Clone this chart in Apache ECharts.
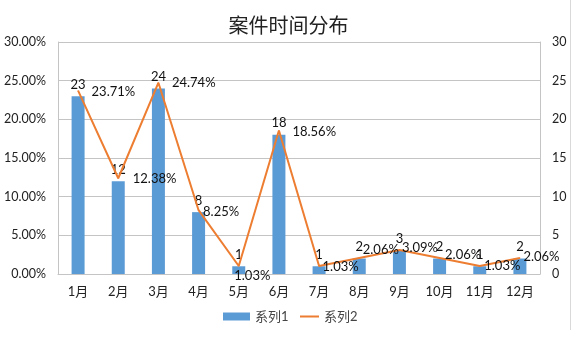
<!DOCTYPE html>
<html>
<head>
<meta charset="utf-8">
<script src="https://cdn.jsdelivr.net/npm/echarts@6/dist/echarts.min.js"></script>
<style>
  html, body { margin: 0; padding: 0; background: #fff; }
  #chart { width: 577px; height: 343px; }
</style>
</head>
<body>
<div id="chart"></div>
<script>
// Monthly case counts and their share of the yearly total
const months = ['1月', '2月', '3月', '4月', '5月', '6月', '7月', '8月', '9月', '10月', '11月', '12月'];
const caseCounts = [23, 12, 24, 8, 1, 18, 1, 2, 3, 2, 1, 2];
const casePercents = [23.71, 12.38, 24.74, 8.25, 1.03, 18.56, 1.03, 2.06, 3.09, 2.06, 1.03, 2.06];
const leftTicks = [0, 5, 10, 15, 20, 25, 30];
const rightTicks = [0, 5, 10, 15, 20, 25, 30];

// Per-point nudges for the percentage labels so they sit clear of the line
const pctLabelNudge = [[13, 1], [14, 1], [13, 0], [4, 2], [-5, 10], [13, 1], [3, 1], [3, -8], [2, -2], [5, -3], [4, 0], [3, -1]];

const FONT = 'Lato, "Noto Sans CJK SC", sans-serif';
const TEXT = '#222';
const GRID = '#c4c4c4';

const chart = echarts.init(document.getElementById('chart'), null, { renderer: 'canvas' });

const lineData = casePercents.map((v, i) => ({
  value: v,
  label: { offset: pctLabelNudge[i] }
}));

chart.setOption({
  animation: false,
  backgroundColor: '#fff',
  title: {
    text: '案件时间分布',
    left: 'center',
    top: 10,
    textStyle: { fontFamily: '"Noto Sans CJK SC", sans-serif', fontSize: 20, fontWeight: 'normal', color: '#222' }
  },
  legend: [
    {
      data: ['系列1'],
      left: 218, top: 305,
      itemWidth: 27, itemHeight: 8,
      icon: 'rect',
      textStyle: { fontFamily: FONT, fontSize: 13, color: '#444' }
    },
    {
      data: ['系列2'],
      left: 295, top: 305,
      itemWidth: 19, itemHeight: 2,
      icon: 'rect',
      textStyle: { fontFamily: FONT, fontSize: 13, color: '#444' }
    }
  ],
  grid: { left: 58, right: 37, top: 42, bottom: 69, containLabel: false },
  xAxis: {
    type: 'category',
    data: months,
    axisLine: { show: true, lineStyle: { color: GRID } },
    axisTick: { show: false },
    axisLabel: { fontFamily: FONT, fontSize: 13, color: TEXT, margin: 11 }
  },
  yAxis: [
    {
      type: 'value',
      min: leftTicks[0], max: leftTicks[leftTicks.length - 1],
      interval: leftTicks[1] - leftTicks[0],
      axisLine: { show: true, lineStyle: { color: GRID } },
      axisTick: { show: false },
      splitLine: { show: true, lineStyle: { color: GRID } },
      axisLabel: { fontFamily: FONT, fontSize: 12.5, color: TEXT, margin: 12, formatter: v => v.toFixed(2) + '%' }
    },
    {
      type: 'value',
      min: rightTicks[0], max: rightTicks[rightTicks.length - 1],
      interval: rightTicks[1] - rightTicks[0],
      axisLine: { show: true, lineStyle: { color: GRID } },
      axisTick: { show: false },
      splitLine: { show: false },
      axisLabel: { fontFamily: FONT, fontSize: 12.5, color: TEXT, margin: 12 }
    }
  ],
  series: [
    {
      name: '系列1',
      type: 'bar',
      yAxisIndex: 1,
      data: caseCounts,
      barWidth: 13,
      itemStyle: { color: '#5B9BD5' },
      label: { show: true, position: 'top', distance: 5, fontFamily: FONT, fontSize: 13, color: '#111' }
    },
    {
      name: '系列2',
      type: 'line',
      yAxisIndex: 0,
      data: lineData,
      symbol: 'circle',
      symbolSize: 1,
      z: 3,
      lineStyle: { color: '#ED7D31', width: 2 },
      itemStyle: { color: '#ED7D31' },
      label: {
        show: true, position: 'right', distance: 0,
        fontFamily: FONT, fontSize: 13, color: '#111',
        formatter: p => p.value.toFixed(2) + '%'
      }
    }
  ],
  graphic: [
    { type: 'line', shape: { x1: 570.5, y1: 0, x2: 570.5, y2: 330 }, style: { stroke: '#d9d9d9', lineWidth: 1 } }
  ]
});
</script>
</body>
</html>
